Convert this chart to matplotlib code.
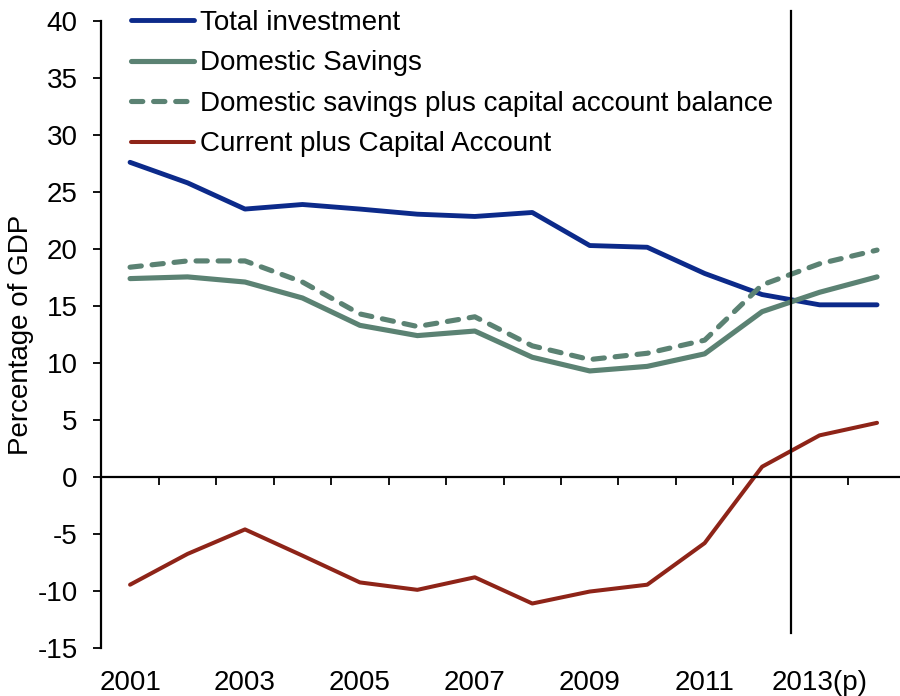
import matplotlib
matplotlib.use('Agg')
import matplotlib.pyplot as plt

years = list(range(2001, 2015))
total_investment = [27.6, 25.8, 23.5, 23.9, 23.5, 23.05, 22.85, 23.2, 20.3, 20.15, 17.85, 16.0, 15.1, 15.1]
domestic_savings = [17.4, 17.55, 17.1, 15.7, 13.3, 12.4, 12.8, 10.5, 9.3, 9.7, 10.8, 14.5, 16.2, 17.55]
savings_plus_capital = [18.4, 18.95, 18.95, 17.1, 14.3, 13.2, 14.05, 11.5, 10.3, 10.85, 12.0, 16.85, 18.7, 19.9]
current_plus_capital = [-9.45, -6.75, -4.6, -6.9, -9.25, -9.9, -8.8, -11.1, -10.05, -9.45, -5.8, 0.9, 3.65, 4.75]

label_years = [2001, 2003, 2005, 2007, 2009, 2011, 2013]
label_text = ['2001', '2003', '2005', '2007', '2009', '2011', '2013(p)']

# projections start after 2012
proj_split = 2012.5
proj_line_span = (40.9, -13.7)

plt.rcParams['font.family'] = ['Liberation Sans', 'DejaVu Sans']
plt.rcParams['axes.unicode_minus'] = False

fig = plt.figure(figsize=(9, 6.96), dpi=100)
ax = fig.add_axes([0.1126, 0.069, 0.8938, 0.9009])

blue = '#0c2a8a'
green = '#5b8273'
red = '#8e2418'

ax.plot(years, total_investment, color=blue, lw=3.5, solid_capstyle='round',
        label='Total investment')
ax.plot(years, domestic_savings, color=green, lw=3.7, solid_capstyle='round',
        label='Domestic Savings')
ax.plot(years, savings_plus_capital, color=green, lw=3.7, dash_capstyle='round',
        dashes=(2.2, 2.1), label='Domestic savings plus capital account balance')
ax.plot(years, current_plus_capital, color=red, lw=2.9, solid_capstyle='round',
        label='Current plus Capital Account')

ax.plot([proj_split, proj_split], proj_line_span, color='black', lw=1.6, clip_on=False)

ax.set_xlim(2000.5, 2014.5)
ax.set_ylim(-15, 40)
ax.set_yticks(range(-15, 41, 5))
ax.tick_params(axis='y', direction='out', length=6, width=1.3, pad=11, labelsize=20)

# category axis crosses at zero, ticks between the years
ax.spines['top'].set_visible(False)
ax.spines['right'].set_visible(False)
ax.spines['bottom'].set_position(('data', 0))
ax.spines['left'].set_linewidth(1.6)
ax.spines['bottom'].set_linewidth(1.6)
ax.set_xticks([y + 0.5 for y in years])
ax.set_xticklabels([])
ax.tick_params(axis='x', direction='out', length=6, width=1.3)

# year labels sit under the plot area
sec = ax.secondary_xaxis(0)
sec.set_xticks(label_years)
sec.set_xticklabels(label_text)
sec.tick_params(axis='x', length=0, pad=16, labelsize=20)
sec.spines['bottom'].set_visible(False)

ax.set_ylabel('Percentage of GDP', fontsize=20)
ax.yaxis.set_label_coords(-0.084, 0.5)

ax.legend(loc='upper left', bbox_to_anchor=(131 / 900, 1 - 10 / 696),
          bbox_transform=fig.transFigure, frameon=False, fontsize=20,
          handlelength=2.27, handletextpad=0.22, labelspacing=0.52,
          borderpad=0, borderaxespad=0)

fig.savefig('out.png', dpi=100)
